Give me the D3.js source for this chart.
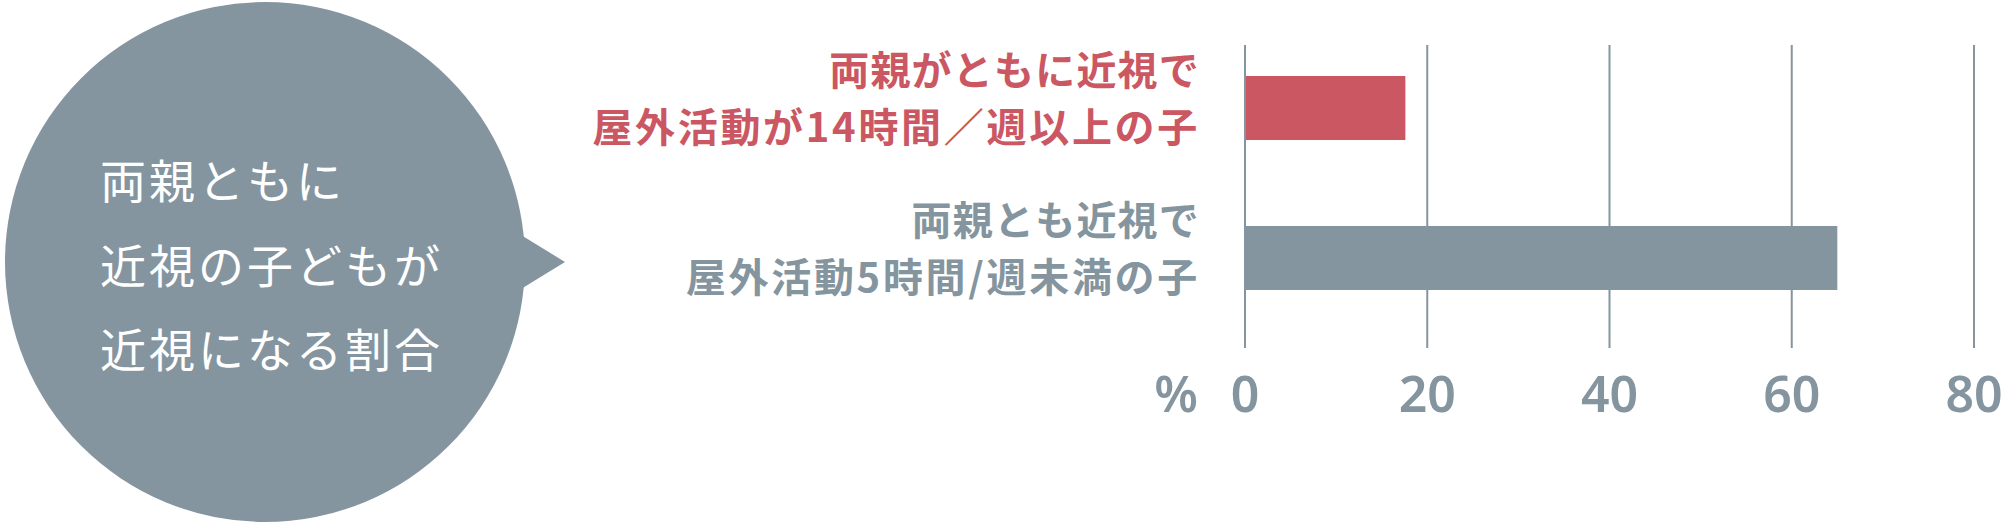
<!DOCTYPE html>
<html lang="ja">
<head>
<meta charset="utf-8">
<script src="https://cdn.jsdelivr.net/npm/d3@7"></script>
<style>
  html, body { margin: 0; padding: 0; background: #fff; }
  svg { display: block; }
  .bubble-text { font-family: "Noto Sans CJK JP", sans-serif; font-size: 46px; fill: #fff; letter-spacing: 3px; }
  .cat-label { font-family: "Noto Sans CJK JP", sans-serif; font-size: 40px; font-weight: 700; }
  .tick-label { font-family: "Noto Sans", sans-serif; font-size: 50px; font-weight: 600; fill: #8495a0; }
</style>
</head>
<body>
<svg id="chart" width="2009" height="524"></svg>
<script>
const svg = d3.select("#chart");

// data
const bubbleLines = ["両親ともに", "近視の子どもが", "近視になる割合"];
const labelLine1 = ["両親がともに近視で", "両親とも近視で"];
const labelLine2 = ["屋外活動が14時間／週以上の子", "屋外活動5時間/週未満の子"];
const values = [17.6, 65];
const barColors = ["#cb5763", "#8495a0"];
const tickValues = [0, 20, 40, 60, 80];
const unitLabel = "%";

const grey = "#8495a0";

const rows = values.map((v, i) => ({
  key: i,
  value: v,
  line1: labelLine1[i],
  line2: labelLine2[i],
  color: barColors[i],
}));

// speech bubble
const bubble = svg.append("g");
const cx = 265, cy = 262, r = 260;

bubble
  .append("path")
  .attr("d", d3.line()([[cx + 235, cy - 40], [cx + 300, cy], [cx + 235, cy + 40]]) + "Z")
  .attr("fill", grey);

bubble.append("circle").attr("cx", cx).attr("cy", cy).attr("r", r).attr("fill", grey);

bubble
  .selectAll("text")
  .data(bubbleLines)
  .join("text")
  .attr("class", "bubble-text")
  .attr("x", 100)
  .attr("y", (_, i) => 198 + i * 84.5)
  .text((d) => d);

// bar chart
const x = d3.scaleLinear().domain([0, 80]).range([1245, 1974]);

const y = d3
  .scaleBand()
  .domain(rows.map((d) => d.key))
  .range([33, 333])
  .paddingInner(0.5733)
  .paddingOuter(0.2867);

const gridTop = 45;
const gridBottom = 348;

svg
  .append("g")
  .selectAll("line")
  .data(tickValues)
  .join("line")
  .attr("x1", (d) => x(d))
  .attr("x2", (d) => x(d))
  .attr("y1", gridTop)
  .attr("y2", gridBottom)
  .attr("stroke", grey)
  .attr("stroke-width", 2);

svg
  .append("g")
  .selectAll("rect")
  .data(rows)
  .join("rect")
  .attr("x", x(0) + 1)
  .attr("y", (d) => y(d.key))
  .attr("width", (d) => x(d.value) - x(0) - 1)
  .attr("height", y.bandwidth())
  .attr("fill", (d) => d.color);

const labels = svg
  .append("g")
  .selectAll("text")
  .data(rows)
  .join("text")
  .attr("class", "cat-label")
  .attr("text-anchor", "end")
  .attr("fill", (d) => d.color);

labels
  .append("tspan")
  .attr("x", 1200)
  .attr("y", (d) => y(d.key) + y.bandwidth() / 2 - 23)
  .style("letter-spacing", "1.2px")
  .text((d) => d.line1);

labels
  .append("tspan")
  .attr("x", 1200)
  .attr("y", (d) => y(d.key) + y.bandwidth() / 2 + 34)
  .style("letter-spacing", "2.7px")
  .text((d) => d.line2);

// x axis labels
svg
  .append("g")
  .selectAll("text")
  .data(tickValues)
  .join("text")
  .attr("class", "tick-label")
  .attr("x", (d) => x(d))
  .attr("y", 412)
  .attr("text-anchor", "middle")
  .text((d) => d);

svg
  .append("text")
  .attr("class", "tick-label")
  .attr("x", 1198)
  .attr("y", 412)
  .attr("text-anchor", "end")
  .text(unitLabel);
</script>
</body>
</html>
